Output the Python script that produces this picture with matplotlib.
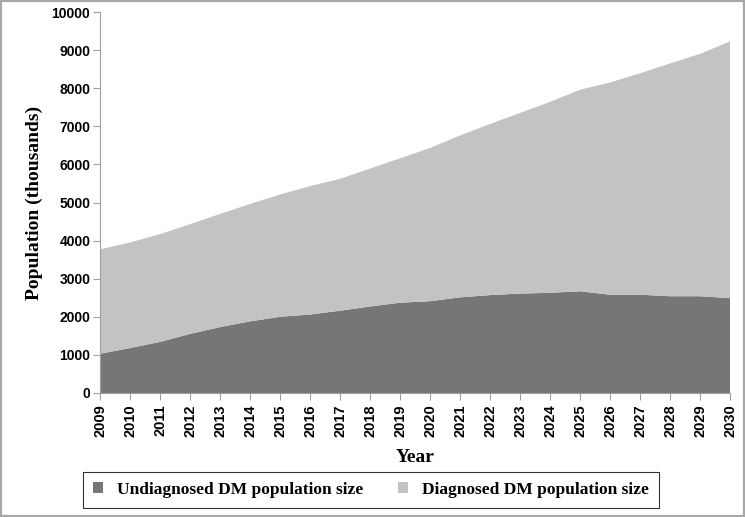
import numpy as np
import matplotlib.pyplot as plt
from matplotlib.patches import Rectangle

# Data (thousands)
years = list(range(2009, 2031))
undiagnosed = [1030, 1180, 1340, 1550, 1730, 1880, 2000, 2060, 2160, 2270, 2370,
               2410, 2510, 2570, 2610, 2630, 2670, 2580, 2580, 2540, 2540, 2490]
total = [3770, 3950, 4170, 4430, 4700, 4960, 5210, 5430, 5620, 5890, 6160,
         6430, 6760, 7060, 7350, 7640, 7960, 8150, 8390, 8650, 8900, 9230]
diagnosed = [t - u for t, u in zip(total, undiagnosed)]

fig = plt.figure(figsize=(7.45, 5.17), dpi=100)
ax = fig.add_axes([100 / 745, 1 - 393 / 517, 630 / 745, 381 / 517])

ax.stackplot(years, undiagnosed, diagnosed,
             colors=['#767676', '#c3c3c3'],
             labels=['Undiagnosed DM population size', 'Diagnosed DM population size'])

ax.set_xlim(2009, 2030)
ax.set_ylim(0, 10000)
ax.set_xticks(years)
ax.set_xticklabels([str(y) for y in years], rotation=90,
                   fontfamily='Liberation Sans', fontweight='bold', fontsize=10.5)
ax.set_yticks(range(0, 10001, 1000))
ax.set_yticklabels([str(v) for v in range(0, 10001, 1000)],
                   fontfamily='Liberation Sans', fontweight='bold', fontsize=10)

for side in ['top', 'right']:
    ax.spines[side].set_visible(False)
for side in ['left', 'bottom']:
    ax.spines[side].set_color('#a0a0a0')
ax.tick_params(axis='both', color='#a0a0a0', length=5, pad=2)
ax.tick_params(axis='x', pad=3)

ax.set_xlabel('Year', fontfamily='Liberation Serif', fontweight='bold', fontsize=14,
              labelpad=9)
ax.set_ylabel('Population (thousands)', fontfamily='Liberation Serif',
              fontweight='bold', fontsize=14, labelpad=6)

leg = fig.legend(loc='center', bbox_to_anchor=(371 / 745, 1 - 490 / 517), ncol=2,
                 frameon=True, fancybox=False, edgecolor='black',
                 prop={'family': 'Liberation Serif', 'weight': 'bold', 'size': 12.5},
                 handlelength=0.6, handleheight=0.6, columnspacing=2.0,
                 borderpad=0.55, borderaxespad=0)
leg.get_frame().set_linewidth(0.8)

# gray border around the whole picture
fig.patches.append(Rectangle((0, 0), 1, 1, transform=fig.transFigure,
                             fill=False, edgecolor='#a8a8a8', linewidth=3))

fig.savefig('out.png', dpi=100)
